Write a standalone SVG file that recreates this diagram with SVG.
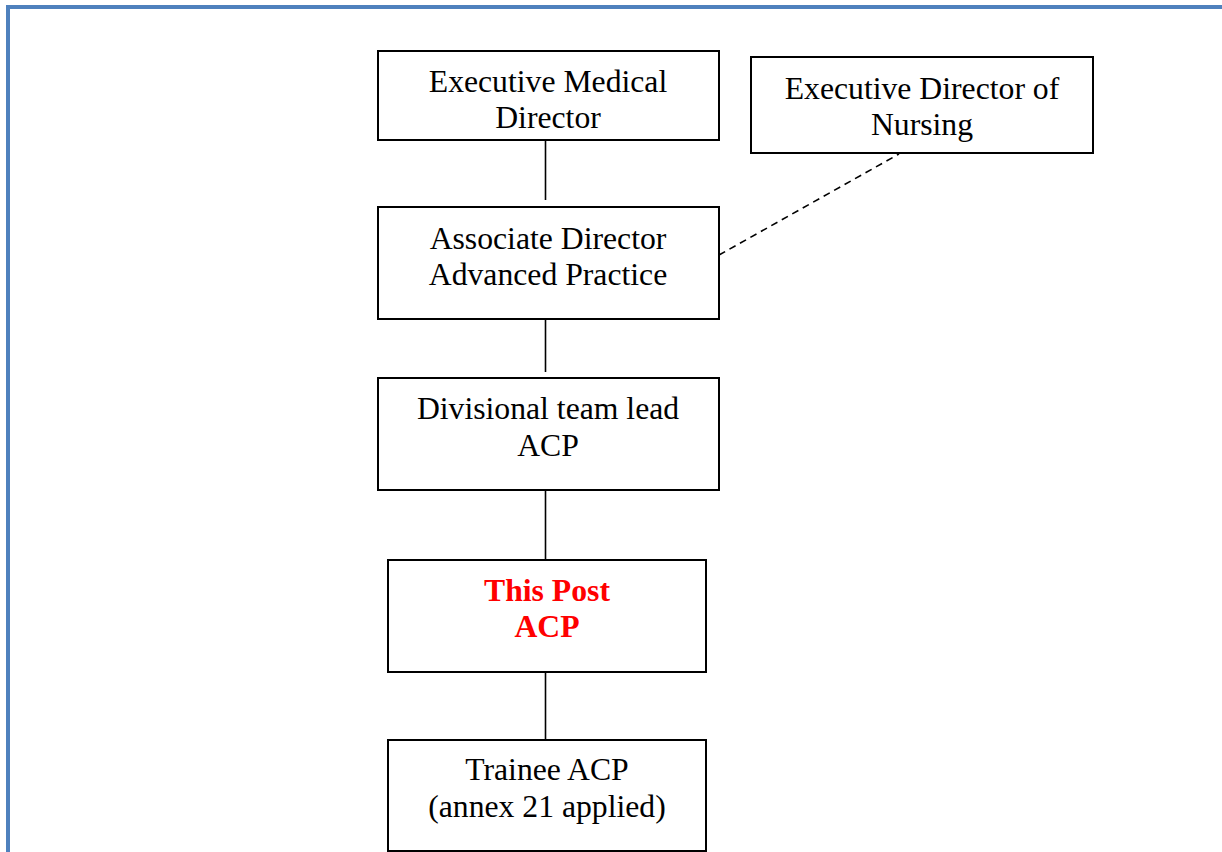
<svg xmlns="http://www.w3.org/2000/svg" width="1222" height="852" viewBox="0 0 1222 852">
<style>
.box{fill:#ffffff;stroke:#000000;stroke-width:2}
.t{font-family:"Liberation Serif","Times New Roman",serif;font-size:31.7px;fill:#000000;text-anchor:middle}
.r{fill:#ff0000;font-weight:bold}
.c{stroke:#000000;stroke-width:1.6;fill:none}
.d{stroke-dasharray:7,5}
</style>
<rect x="0" y="0" width="1222" height="852" fill="#ffffff"/>
<g id="frame">
<rect x="6" y="5" width="1216" height="4" fill="#4F81BD"/>
<rect x="6" y="5" width="4" height="847" fill="#4F81BD"/>
</g>
<g id="connectors">
<line class="c" x1="545.5" y1="140" x2="545.5" y2="200"/>
<line class="c" x1="545.5" y1="319" x2="545.5" y2="372"/>
<line class="c" x1="545.5" y1="490" x2="545.5" y2="560"/>
<line class="c" x1="545.5" y1="672" x2="545.5" y2="741"/>
<line class="c d" x1="719" y1="255" x2="899" y2="154"/>
</g>
<g id="n-exec-medical">
<rect class="box" x="378" y="51" width="341" height="89"/>
<text class="t" x="548" y="92">Executive Medical</text>
<text class="t" x="548" y="128">Director</text>
</g>
<g id="n-exec-nursing">
<rect class="box" x="751" y="57" width="342" height="96"/>
<text class="t" x="922" y="99">Executive Director of</text>
<text class="t" x="922" y="135">Nursing</text>
</g>
<g id="n-assoc">
<rect class="box" x="378" y="207" width="341" height="112"/>
<text class="t" x="548" y="249">Associate Director</text>
<text class="t" x="548" y="285">Advanced Practice</text>
</g>
<g id="n-divisional">
<rect class="box" x="378" y="378" width="341" height="112"/>
<text class="t" x="548" y="419">Divisional team lead</text>
<text class="t" x="548" y="456">ACP</text>
</g>
<g id="n-thispost">
<rect class="box" x="388" y="560" width="318" height="112"/>
<text class="t r" x="547" y="601">This Post</text>
<text class="t r" x="547" y="637">ACP</text>
</g>
<g id="n-trainee">
<rect class="box" x="388" y="740" width="318" height="111"/>
<text class="t" x="547" y="780">Trainee ACP</text>
<text class="t" x="547" y="817">(annex 21 applied)</text>
</g>
</svg>
